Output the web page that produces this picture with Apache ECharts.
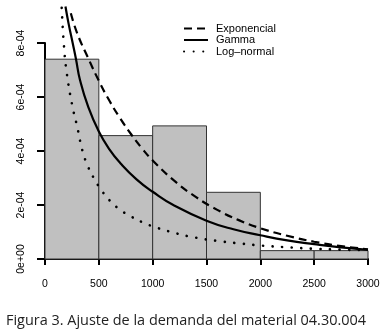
<!DOCTYPE html>
<html>
<head>
<meta charset="utf-8">
<script src="https://cdn.jsdelivr.net/npm/echarts@6/dist/echarts.min.js"></script>
<style>
  html, body { margin: 0; padding: 0; background: #fff; }
  #chart { width: 386px; height: 336px; }
</style>
</head>
<body>
<div id="chart"></div>
<script>
// histogram bins (demand) and densities
var binStart = [0, 500, 1000, 1500, 2000, 2500];
var binEnd = [500, 1000, 1500, 2000, 2500, 3000];
var binDensity = [7.40e-4, 4.57e-4, 4.93e-4, 2.47e-4, 0.31e-4, 0.31e-4];

// fitted curves
var expX = [240, 300, 400, 500, 600, 700, 800, 900, 1000, 1200, 1400, 1600, 1800, 2000, 2250, 2500, 2750, 3000];
var expY = [9.1e-4, 8.35e-4, 7.45e-4, 6.6e-4, 5.85e-4, 5.2e-4, 4.62e-4, 4.1e-4, 3.65e-4, 2.9e-4, 2.3e-4, 1.82e-4, 1.44e-4, 1.14e-4, 0.86e-4, 0.64e-4, 0.48e-4, 0.36e-4];

var gamX = [190, 220, 257, 288, 325, 400, 500, 600, 700, 850, 1000, 1200, 1500, 1750, 2000, 2250, 2500, 2750, 3000];
var gamY = [9.35e-4, 8.7e-4, 8.0e-4, 7.4e-4, 6.63e-4, 5.65e-4, 4.72e-4, 4.05e-4, 3.55e-4, 2.95e-4, 2.49e-4, 1.98e-4, 1.42e-4, 1.10e-4, 0.88e-4, 0.69e-4, 0.55e-4, 0.43e-4, 0.34e-4];

var lnX = [155, 175, 200, 250, 300, 350, 400, 450, 500, 600, 700, 800, 900, 1000, 1200, 1400, 1600, 1800, 2000, 2250, 2500, 2750, 3000];
var lnY = [9.3e-4, 7.95e-4, 6.95e-4, 5.75e-4, 4.88e-4, 3.98e-4, 3.42e-4, 3.02e-4, 2.69e-4, 2.17e-4, 1.82e-4, 1.57e-4, 1.37e-4, 1.21e-4, 0.97e-4, 0.79e-4, 0.67e-4, 0.58e-4, 0.50e-4, 0.435e-4, 0.38e-4, 0.345e-4, 0.33e-4];

var xTicks = ['0', '500', '1000', '1500', '2000', '2500', '3000'];
var yTicks = ['0e+00', '2e-04', '4e-04', '6e-04', '8e-04'];
var seriesNames = ['Exponencial', 'Gamma', 'Log\u2013normal'];
var caption = 'Figura 3. Ajuste de la demanda del material 04.30.004';

function pairs(xs, ys) {
    return xs.map(function (x, i) { return [x, ys[i]]; });
}

var chart = echarts.init(document.getElementById('chart'));
var font = 'Liberation Sans, Arial, sans-serif';

var option = {
    animation: false,
    title: {
        text: caption,
        left: 1,
        top: 309,
        textStyle: { fontFamily: 'Open Sans, sans-serif', fontSize: 14.45, fontWeight: 'normal', color: '#222' }
    },
    grid: { left: 45, right: 18, top: 43, bottom: 77 },
    legend: {
        orient: 'vertical',
        left: 178,
        top: 18,
        itemWidth: 24,
        itemHeight: 10,
        itemGap: 0.5,
        itemStyle: { opacity: 0 },
        data: seriesNames,
        textStyle: { fontFamily: font, fontSize: 11, lineHeight: 10, color: '#000', padding: [0, 0, 0, 3] }
    },
    xAxis: {
        type: 'value',
        min: 0,
        max: 3000,
        interval: 500,
        offset: 11,
        splitLine: { show: false },
        axisLine: { lineStyle: { color: '#000', width: 2 } },
        axisTick: { length: 6, lineStyle: { color: '#000', width: 2 } },
        axisLabel: {
            margin: 9,
            fontFamily: font, fontSize: 10.5, color: '#000',
            formatter: function (v) { return xTicks[Math.round(v / 500)]; }
        }
    },
    yAxis: {
        type: 'value',
        min: 0,
        max: 8e-4,
        interval: 2e-4,
        offset: 12,
        splitLine: { show: false },
        axisLine: { show: true, lineStyle: { color: '#000', width: 2 } },
        axisTick: { show: true, length: 8, lineStyle: { color: '#000', width: 2 } },
        axisLabel: {
            rotate: 90,
            margin: 6,
            fontFamily: font, fontSize: 10.5, color: '#000',
            formatter: function (v) { return yTicks[Math.round(v / 2e-4)]; }
        }
    },
    series: [
        {
            type: 'custom',
            name: 'hist',
            data: binStart.map(function (s, i) { return [s, binEnd[i], binDensity[i]]; }),
            encode: { x: [0, 1], y: 2 },
            renderItem: function (params, api) {
                var p0 = api.coord([api.value(0), api.value(2)]);
                var p1 = api.coord([api.value(1), 0]);
                return {
                    type: 'rect',
                    shape: { x: p0[0], y: p0[1], width: p1[0] - p0[0], height: p1[1] - p0[1] },
                    style: { fill: '#c0c0c0', stroke: '#333', lineWidth: 1 }
                };
            },
            z: 1
        },
        {
            type: 'line',
            name: seriesNames[0],
            data: pairs(expX, expY),
            smooth: true,
            symbol: 'none',
            clip: false,
            color: '#000',
            lineStyle: { color: '#000', width: 2.2, type: [8, 5] },
            z: 3
        },
        {
            type: 'line',
            name: seriesNames[1],
            data: pairs(gamX, gamY),
            smooth: true,
            symbol: 'none',
            clip: false,
            color: '#000',
            lineStyle: { color: '#000', width: 2.2 },
            z: 3
        },
        {
            type: 'line',
            name: seriesNames[2],
            data: pairs(lnX, lnY),
            smooth: true,
            symbol: 'none',
            clip: false,
            color: '#000',
            lineStyle: { color: '#000', width: 2.6, type: [0.1, 9.5], cap: 'round' },
            z: 3
        }
    ]
};

chart.setOption(option);
window.addEventListener('resize', function () {
    chart.resize();
});
</script>
</body>
</html>
